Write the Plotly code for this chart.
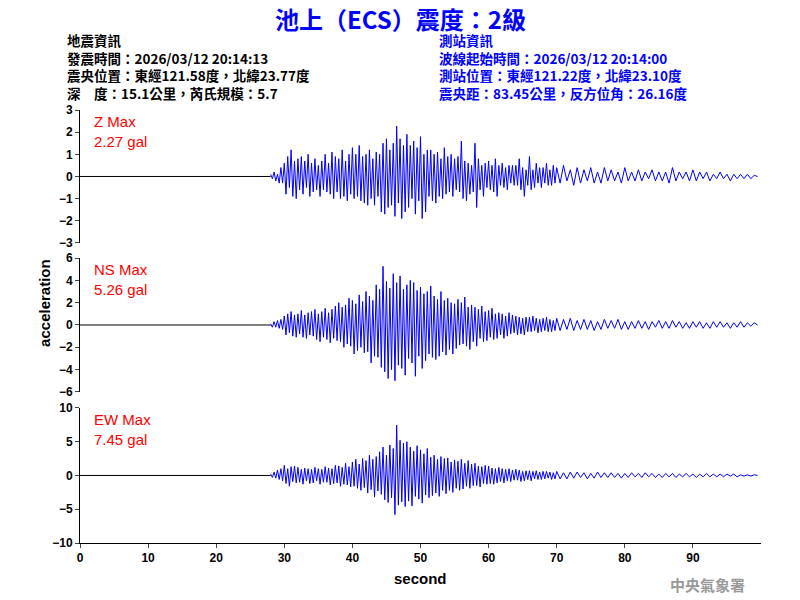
import plotly.graph_objects as go

pre_x = [0, 28]
pre_y = [0, 0]

z_vals = [0.1,-0.1,0.2,-0.2,0.1,-0.3,0.4,-0.3,
0.6,-0.8,0.9,-0.5,1.2,-0.9,0.7,-1.0,
0.8,-0.6,0.9,-0.8,0.7,-0.5,1.0,-0.9,
0.6,-0.7,0.8,-0.6,0.5,-0.9,0.7,-0.6,
1.0,-0.7,0.6,-0.8,1.1,-1.0,0.9,-0.7,
0.8,-1.0,1.2,-0.9,0.7,-1.1,1.0,-0.8,
1.3,-1.0,1.0,-0.9,1.4,-1.1,0.9,-1.2,
1.0,-1.3,1.2,-1.0,0.8,-1.3,1.1,-0.9,
1.0,-1.6,1.5,-1.7,1.7,-1.4,1.2,-1.3,
1.5,-1.8,2.27,-1.2,1.7,-1.9,1.4,-1.6,
1.9,-1.4,1.4,-1.0,1.6,-1.7,1.3,-1.1,
1.8,-1.9,1.0,-1.6,1.2,-0.9,1.2,-1.1,
1.0,-1.2,1.1,-0.9,0.8,-1.0,1.3,-0.8,
0.9,-0.7,1.0,-0.9,0.8,-0.6,0.9,-0.7,
1.6,-1.0,0.7,-1.1,0.6,-0.8,0.5,-0.7,
1.5,-1.4,0.8,-0.6,0.5,-0.9,0.6,-0.5,
0.7,-0.6,0.5,-0.7,0.8,-0.9,0.5,-0.4,
0.6,-0.5,0.4,-0.6,0.5,-0.3,0.5,-0.4,
0.5,-0.4,0.8,-0.6,0.4,-0.9,0.3,-0.4,
0.9,-0.6,0.3,-0.5,0.6,-0.3,0.4,-0.5,
0.4,-0.3,0.6,-0.4,0.3,-0.4,0.5,-0.3,
0.4,-0.3,0.5,-0.2,0.3,-0.4,0.4,-0.3,
0.3,-0.2,0.4,-0.3,0.2,-0.3,0.4,-0.2,
0.3,-0.2,0.2,-0.3,0.4,-0.2,0.2,-0.2,
0.3,-0.2,0.2,-0.1,0.3,-0.2,0.2,-0.2,
0.2,-0.3,0.4,-0.2,0.2,-0.1,0.2,-0.2,
0.3,-0.2,0.2,-0.1,0.2,-0.2,0.1,-0.1,
0.2,-0.1,0.1,-0.2,0.1,-0.1,0.1,-0.1,
0.1,-0.1,0.05,0.0]

ns_vals = [0.1,-0.2,0.3,-0.2,0.4,-0.3,0.5,-0.4,
0.8,-0.9,1.0,-0.7,1.2,-1.0,0.9,-1.1,
1.0,-0.8,1.3,-1.1,0.9,-1.2,1.1,-0.9,
1.2,-1.0,1.4,-1.3,1.0,-1.5,1.2,-1.1,
1.5,-1.3,1.1,-1.6,1.4,-1.2,1.7,-1.4,
2.0,-1.5,1.6,-2.0,1.8,-1.7,2.4,-1.9,
2.2,-2.6,1.9,-2.3,2.7,-2.0,2.1,-2.5,
3.0,-2.4,2.6,-3.4,2.2,-2.8,3.6,-2.9,
3.2,-3.8,5.26,-4.2,3.9,-4.8,3.3,-4.0,
4.6,-5.0,3.8,-3.6,4.4,-3.9,3.2,-4.5,
3.6,-3.0,4.0,-3.4,3.8,-4.6,3.1,-2.8,
3.4,-3.9,2.8,-3.2,3.0,-2.6,3.5,-2.9,
2.6,-3.1,2.3,-2.8,3.0,-2.4,2.2,-2.7,
2.4,-2.2,2.0,-2.6,1.9,-2.1,2.3,-1.8,
2.0,-1.7,2.5,-1.9,1.6,-2.2,1.8,-1.5,
1.6,-1.9,1.4,-1.2,1.7,-1.5,1.2,-1.4,
1.3,-1.1,1.5,-1.3,1.0,-1.2,1.1,-0.9,
1.0,-1.2,0.8,-1.0,1.1,-0.8,0.9,-0.7,
0.8,-0.9,0.7,-0.8,0.6,-0.9,0.7,-0.6,
0.7,-0.6,0.8,-0.5,0.6,-0.7,0.5,-0.6,
0.6,-0.5,0.7,-0.6,0.5,-0.6,0.4,-0.5,
0.6,-0.5,0.5,-0.4,0.6,-0.5,0.4,-0.4,
0.5,-0.4,0.4,-0.5,0.3,-0.4,0.5,-0.3,
0.4,-0.3,0.5,-0.4,0.3,-0.4,0.3,-0.3,
0.4,-0.3,0.3,-0.4,0.3,-0.2,0.4,-0.3,
0.3,-0.3,0.4,-0.2,0.3,-0.3,0.2,-0.3,
0.3,-0.2,0.3,-0.3,0.2,-0.3,0.3,-0.2,
0.3,-0.2,0.2,-0.3,0.2,-0.2,0.3,-0.2,
0.2,-0.1,0.2,0.0]

ew_vals = [0.2,-0.3,0.5,-0.4,0.8,-0.6,1.0,-0.8,
1.5,-1.2,1.0,-1.6,1.3,-0.9,1.4,-1.1,
1.2,-1.0,0.9,-1.3,1.1,-0.8,1.0,-1.2,
0.9,-1.1,1.2,-0.8,1.0,-1.3,0.9,-1.0,
1.3,-1.0,1.1,-1.4,1.0,-1.2,1.5,-1.1,
1.4,-1.6,1.2,-1.3,1.8,-1.4,1.3,-1.7,
2.0,-1.6,2.4,-1.9,1.7,-2.2,2.5,-1.8,
2.2,-2.6,3.0,-2.1,2.4,-3.2,2.8,-2.3,
3.5,-2.8,4.2,-3.6,3.0,-4.0,4.5,-3.3,
4.0,-5.8,7.45,-4.4,5.2,-3.9,4.8,-4.6,
5.0,-3.8,4.2,-4.5,3.6,-3.1,4.4,-3.5,
3.8,-4.1,3.2,-2.9,4.0,-3.3,2.7,-3.0,
3.0,-2.6,2.4,-3.1,2.8,-2.2,2.5,-2.7,
2.6,-2.2,2.0,-2.5,2.3,-1.9,2.1,-2.2,
2.4,-2.0,1.8,-1.6,2.2,-1.9,1.7,-1.5,
1.8,-1.5,1.4,-1.7,1.3,-1.2,1.5,-1.3,
1.4,-1.2,1.1,-1.3,1.0,-1.1,1.2,-0.9,
1.0,-1.1,0.9,-0.8,1.0,-0.9,0.8,-0.7,
0.9,-0.7,0.8,-0.9,0.6,-0.8,0.7,-0.6,
0.7,-0.8,0.6,-0.5,0.7,-0.6,0.5,-0.6,
0.6,-0.5,0.6,-0.4,0.5,-0.6,0.4,-0.5,
0.6,-0.5,0.4,-0.5,0.5,-0.4,0.5,-0.3,
0.4,-0.5,0.3,-0.4,0.5,-0.3,0.4,-0.3,
0.4,-0.3,0.3,-0.4,0.3,-0.3,0.4,-0.2,
0.3,-0.3,0.4,-0.2,0.3,-0.3,0.2,-0.3,
0.3,-0.2,0.3,-0.3,0.2,-0.2,0.3,-0.2,
0.2,-0.3,0.2,-0.2,0.3,-0.2,0.2,-0.2,
0.2,-0.2,0.2,-0.1,0.2,-0.2,0.1,-0.1,
0.1,-0.1,0.1,0.0]

t = [28 + 0.25 * i for i in range(168)] + [70 + 0.5 * i for i in range(60)]

labels = ["Z Max", "NS Max", "EW Max"]
maxes = ["2.27 gal", "5.26 gal", "7.45 gal"]
yranges = [[-3, 3], [-6, 6], [-10, 10]]
ydticks = [1, 2, 5]
x_ticks = [0, 10, 20, 30, 40, 50, 60, 70, 80, 90]
title_text = "池上（ECS）震度：2級"
left_lines = ["地震資訊", "發震時間：2026/03/12 20:14:13", "震央位置：東經121.58度，北緯23.77度",
              "深　度：15.1公里，芮氏規模：5.7"]
right_lines = ["測站資訊", "波線起始時間：2026/03/12 20:14:00", "測站位置：東經121.22度，北緯23.10度",
               "震央距：83.45公里，反方位角：26.16度"]

CJK = "Noto Sans CJK TC"
TICKF = dict(size=12, color="black", family="Arial", weight="bold")
fig = go.Figure()
domains = [[0.693, 1.0], [0.349, 0.658], [0.0, 0.312]]
series = [z_vals, ns_vals, ew_vals]
for i in range(3):
    ya = "y" if i == 0 else f"y{i+1}"
    xa = "x" if i == 0 else f"x{i+1}"
    fig.add_trace(go.Scatter(x=pre_x, y=pre_y, mode="lines", line=dict(color="black", width=1),
                             xaxis=xa, yaxis=ya, showlegend=False))
    fig.add_trace(go.Scatter(x=t, y=series[i], mode="lines", line=dict(color="#0000ff", width=1),
                             xaxis=xa, yaxis=ya, showlegend=False))
    yk = "yaxis" if i == 0 else f"yaxis{i+1}"
    xk = "xaxis" if i == 0 else f"xaxis{i+1}"
    fig.layout[yk] = dict(domain=domains[i], range=yranges[i], dtick=ydticks[i], showgrid=False,
                          zeroline=False, showline=True, linecolor="black", ticks="outside",
                          ticklen=4, anchor=xa, tickfont=TICKF)
    fig.layout[xk] = dict(range=[0, 100], anchor=ya, showgrid=False, zeroline=False,
                          visible=(i == 2), showline=True, linecolor="black", ticks="outside",
                          tickvals=x_ticks, ticklen=4, tickfont=TICKF,
                          **({} if i == 2 else {"matches": "x3"}))
    ytop = domains[i][1]
    fig.add_annotation(xref="paper", yref="paper", x=0.018, y=ytop - 0.002, xanchor="left", yanchor="top",
                       text=f"{labels[i]}<br>{maxes[i]}", showarrow=False, align="left",
                       font=dict(color="red", size=15, family="Arial"))

fig.add_annotation(xref="paper", yref="paper", x=0.5, y=-0.058, text="<b>second</b>", showarrow=False,
                   font=dict(size=15, color="black"), yanchor="top")
fig.add_annotation(xref="paper", yref="paper", x=-0.068, y=0.555,
                   text="<b>acceleration</b>", textangle=-90, showarrow=False,
                   font=dict(size=15, color="black"))

fig.add_annotation(xref="paper", yref="paper", x=0.47, y=1.212, yanchor="middle",
                   text=f"<b>{title_text}</b>", showarrow=False,
                   font=dict(size=24, color="#0000ff", family=CJK))
fig.add_annotation(xref="paper", yref="paper", x=-0.022, y=1.19, xanchor="left", yanchor="top",
                   align="left", text="<br>".join(f"<b>{s}</b>" for s in left_lines), showarrow=False,
                   font=dict(size=13.5, color="black", family=CJK))
fig.add_annotation(xref="paper", yref="paper", x=0.524, y=1.19, xanchor="left", yanchor="top",
                   align="left", text="<br>".join(f"<b>{s}</b>" for s in right_lines), showarrow=False,
                   font=dict(size=13.5, color="#0000ff", family=CJK))
fig.add_annotation(xref="paper", yref="paper", x=0.98, y=-0.068, xanchor="right", yanchor="top",
                   text="<b>中央氣象署</b>", showarrow=False, font=dict(size=15, color="#999999", family=CJK))

fig.update_layout(width=800, height=600, margin=dict(l=80, r=39, t=110, b=57),
                  plot_bgcolor="white", paper_bgcolor="white", font=dict(family="Arial"))
fig.write_html("out.html", config={"displayModeBar": False})
with open("out.html", encoding="utf-8") as f:
    html = f.read()
html = html.replace("<body>", '<body style="margin:0;overflow:hidden">', 1)
with open("out.html", "w", encoding="utf-8") as f:
    f.write(html)
